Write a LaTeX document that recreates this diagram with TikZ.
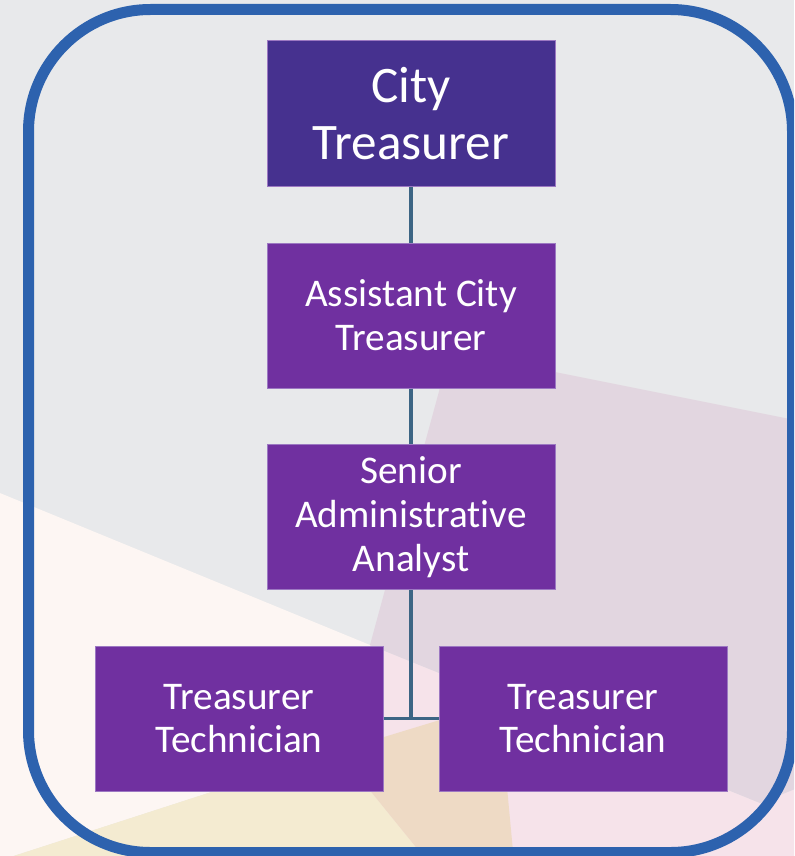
\documentclass[tikz,border=0pt]{standalone}
\usepackage{fontspec}
\setmainfont{Carlito}[Ligatures=NoCommon]

\definecolor{boxpurple}{HTML}{7030A0}
\definecolor{toppurple}{HTML}{46318F}
\definecolor{boxedge}{HTML}{9C78C2}
\definecolor{linkblue}{HTML}{3C6584}
\definecolor{frameblue}{HTML}{2D62AE}
\definecolor{bggray}{HTML}{E8E9EB}
\definecolor{bgmauve}{HTML}{E2D6E0}
\definecolor{bgcream}{HTML}{FDF6F3}
\definecolor{bgpink}{HTML}{F6E3EA}
\definecolor{bgyellow}{HTML}{F4EBD1}
\definecolor{bgpeach}{HTML}{EEDAC5}

\tikzset{
	post/.style={draw=boxedge, line width=0.75pt, fill=boxpurple, text=white,
		minimum width=216pt, minimum height=108.75pt, inner sep=0pt, align=center,
		font=\fontsize{29.4}{32.8}\selectfont},
	toppost/.style={post, fill=toppurple, font=\fontsize{38.4}{42.8}\selectfont},
	link/.style={draw=linkblue, line width=2.5pt}
}

\begin{document}
\begin{tikzpicture}[x=0.75pt, y=-0.75pt]
			%%%%% START %%%%%
			
			\useasboundingbox (0, 0) rectangle (794, 856);
			\clip (0, 0) rectangle (794, 856);
			
			% backdrop panels
			\fill[bggray] (0, 0) rectangle (794, 856);
			\fill[bgpink] (370, 645) -- (760, 803) -- (800, 787) -- (800, 862) -- (380, 862) -- (338, 751) -- cycle;
			\fill[bgmauve] (450, 351) -- (800, 421) -- (800, 787) -- (760, 803) -- (370, 645) -- cycle;
			\fill[bgcream] (-5, 491) -- (370, 645) -- (338, 751) -- (-5, 862) -- cycle;
			\fill[bgyellow] (-5, 862) -- (338, 751) -- (428, 862) -- cycle;
			\fill[bgpeach] (338, 751) -- (499, 702) -- (514, 862) -- (428, 862) -- cycle;
			
			% outer frame
			\draw[frameblue, line width=8.25pt, rounded corners=91.5pt] (28.5, 9.5) rectangle (792.5, 852.5);
			
			% posts
			\node[toppost] (city) at (411, 113.5) {City\\Treasurer};
			\node[post] (asst) at (411, 315.5) {Assistant City\\Treasurer};
			\node[post] (analyst) at (411, 517) {Senior\\Administrative\\Analyst};
			\node[post] (techa) at (239, 718.5) {Treasurer\\Technician};
			\node[post] (techb) at (583, 718.5) {Treasurer\\Technician};
			
			% reporting lines
			\draw[link] (city) -- (asst);
			\draw[link] (asst) -- (analyst);
			\draw[link] (analyst) -- (analyst.south |- techa.east);
			\draw[link] (techa) -- (techb);
			
			%%%%% END %%%%%
\end{tikzpicture}
\end{document}
